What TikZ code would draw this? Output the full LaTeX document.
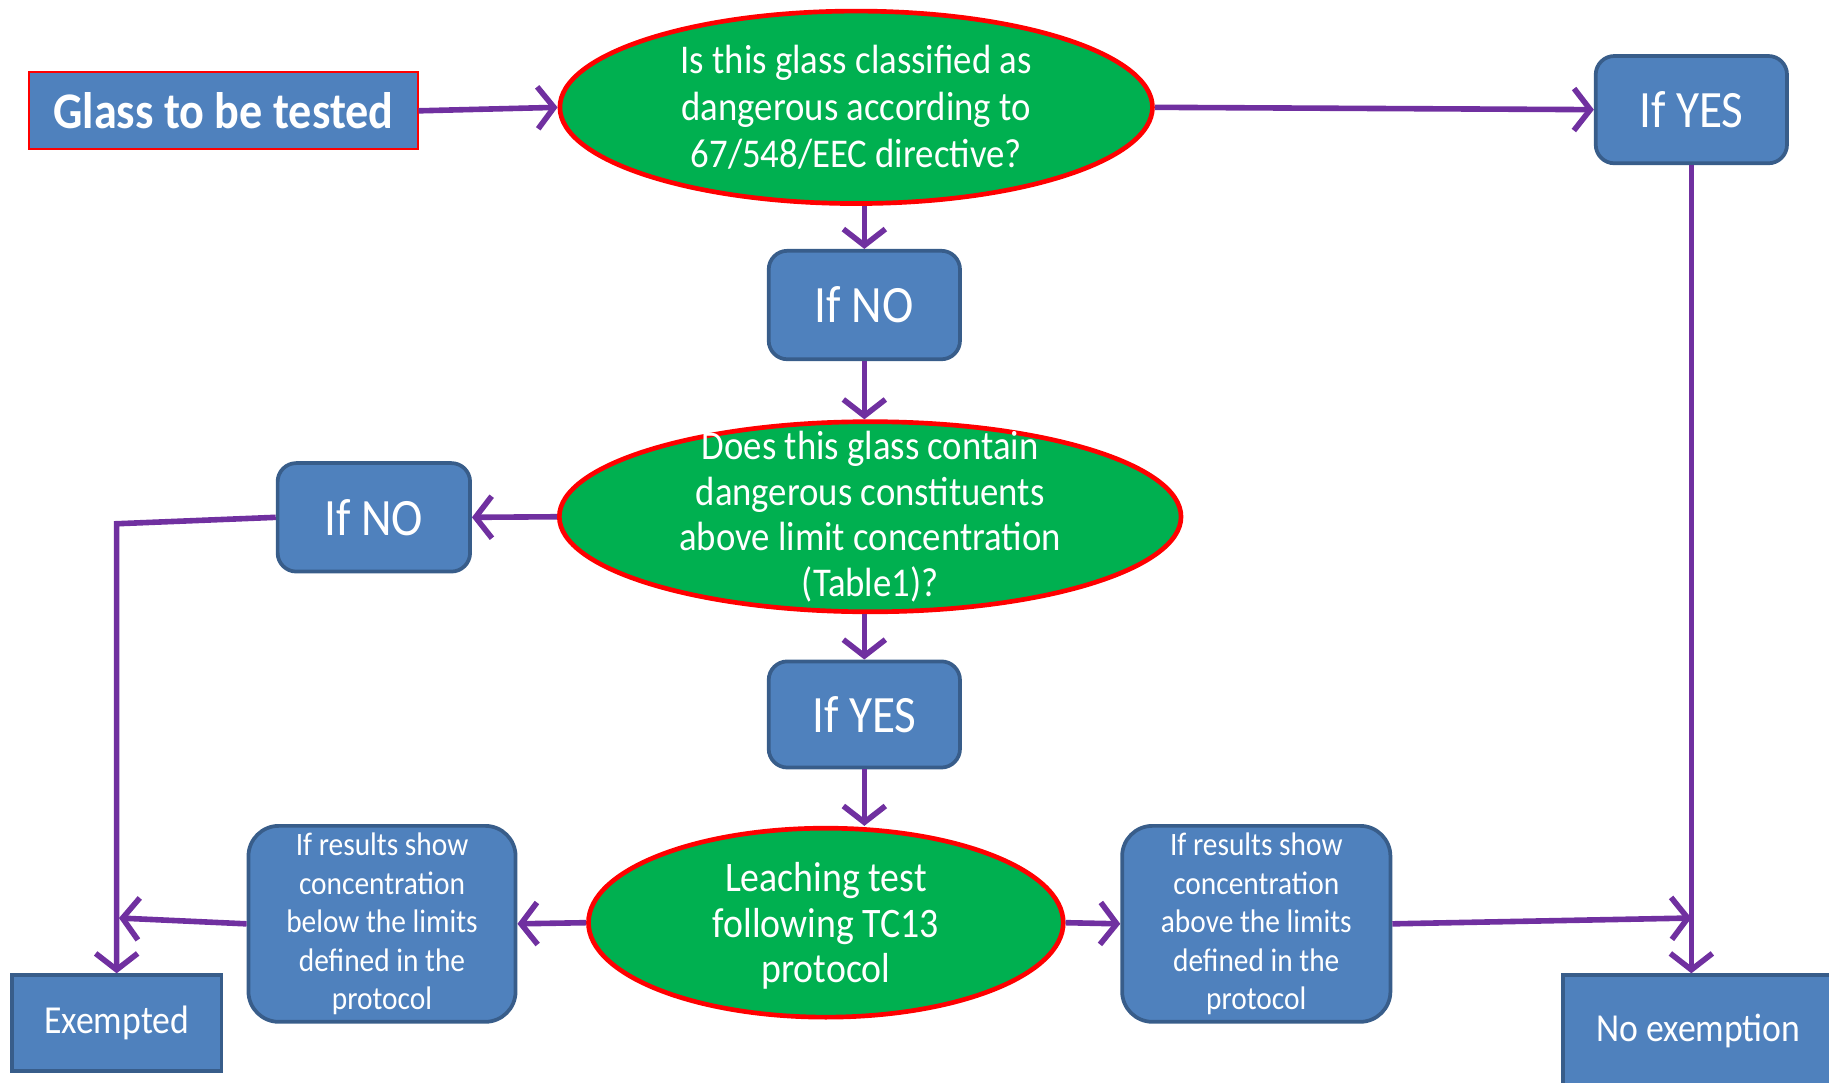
\documentclass[tikz,border=0pt]{standalone}
\usepackage{fontspec}
\setmainfont{Carlito}[FakeStretch=0.9]
\usetikzlibrary{shapes.geometric,arrows.meta}
\definecolor{boxblue}{HTML}{4F81BD}
\definecolor{boxedge}{HTML}{385D8A}
\definecolor{qgreen}{HTML}{00B050}
\definecolor{arrpurple}{HTML}{7030A0}
\tikzset{
  question/.style={ellipse, fill=qgreen, draw=red, line width=2pt, inner sep=0pt},
  qtext/.style={inner sep=0pt, text=white, align=center},
  choice/.style={rectangle, rounded corners=8pt, fill=boxblue, draw=boxedge, line width=1.6pt, inner sep=0pt, text=white, align=center, font=\fontsize{22.5}{26}\selectfont},
  result/.style={rectangle, rounded corners=13pt, fill=boxblue, draw=boxedge, line width=1.6pt, inner sep=0pt, text=white, align=center, font=\fontsize{14}{16.5}\selectfont},
  outcome/.style={rectangle, fill=boxblue, draw=boxedge, line width=1.6pt, inner sep=0pt, text=white, align=center, font=\fontsize{17}{20}\selectfont},
  flow/.style={draw=arrpurple, line width=2.4pt, -{Straight Barb[length=7pt,width=18pt,line width=2.4pt]}},
}
\begin{document}
\begin{tikzpicture}[x=0.5pt,y=-0.5pt]
\useasboundingbox (0,0) rectangle (1568,928);
% nodes
\node[rectangle, fill=boxblue, draw=red, line width=0.8pt, minimum width=166.5pt, minimum height=33pt, inner sep=0pt, text=white, font=\fontsize{22}{26}\selectfont\bfseries]
  (glass) at (191.5,95) {Glass to be tested};
\node[question, minimum width=254pt, minimum height=82.5pt] (q1) at (734,92) {};
\node[qtext, font=\fontsize{17.5}{20}\selectfont] (q1text) at (q1.center)
  {Is this glass classified as\\dangerous according to\\67/548/EEC directive?};
\node[choice, minimum width=82pt, minimum height=46pt] (yesT) at (1450,94) {If YES};
\node[choice, minimum width=82pt, minimum height=46.5pt] (noM) at (741,261.5) {If NO};
\node[question, minimum width=266.5pt, minimum height=81.5pt] (q2) at (746,443) {};
\node[qtext, font=\fontsize{17.5}{19.5}\selectfont] (q2text) at (q2.center)
  {Does this glass contain\\dangerous constituents\\above limit concentration\\(Table1)?};
\node[choice, minimum width=82.5pt, minimum height=46.5pt] (noL) at (320.5,443.5) {If NO};
\node[choice, minimum width=82pt, minimum height=45.5pt] (yesM) at (741,612.5) {If YES};
\node[question, minimum width=203.5pt, minimum height=81pt] (q3) at (708,791) {};
\node[qtext, font=\fontsize{18}{19.5}\selectfont] (q3text) at (708,794)
  {Leaching test\\following TC13\\protocol};
\node[result, minimum width=114.5pt, minimum height=84pt] (below) at (327.5,792)
  {If results show\\concentration\\below the limits\\defined in the\\protocol};
\node[result, minimum width=115pt, minimum height=84pt] (above) at (1077,792)
  {If results show\\concentration\\above the limits\\defined in the\\protocol};
\node[outcome, minimum width=90pt, minimum height=41pt] (exempt) at (100,877) {Exempted};
\node[outcome, minimum width=116pt, minimum height=48pt] (noex) at (1456,884) {No exemption};
% helper coordinates
\coordinate (bendL) at (100,449);
\coordinate (joinL) at (102,787);
\coordinate (joinR) at (1450,787);
% connectors
\draw[flow] (glass.east) -- (q1.west);
\draw[flow] (q1.east) -- (yesT.west);
\draw[flow] (q1.south -| noM.north) -- (noM.north);
\draw[flow] (noM.south) -- (noM.south |- q2.north);
\draw[flow] (q2.west) -- (noL.east);
\draw[flow] (q2.south -| yesM.north) -- (yesM.north);
\draw[flow] (yesM.south) -- (yesM.south |- q3.north);
\draw[flow] (q3.west) -- (below.east);
\draw[flow] (q3.east) -- (above.west);
\draw[flow] (below.west) -- (joinL);
\draw[flow] (above.east) -- (joinR);
\draw[flow] (noL.west) -- (bendL) -- (bendL |- exempt.north);
\draw[flow] (yesT.south) -- (yesT.south |- noex.north);
\end{tikzpicture}
\end{document}
